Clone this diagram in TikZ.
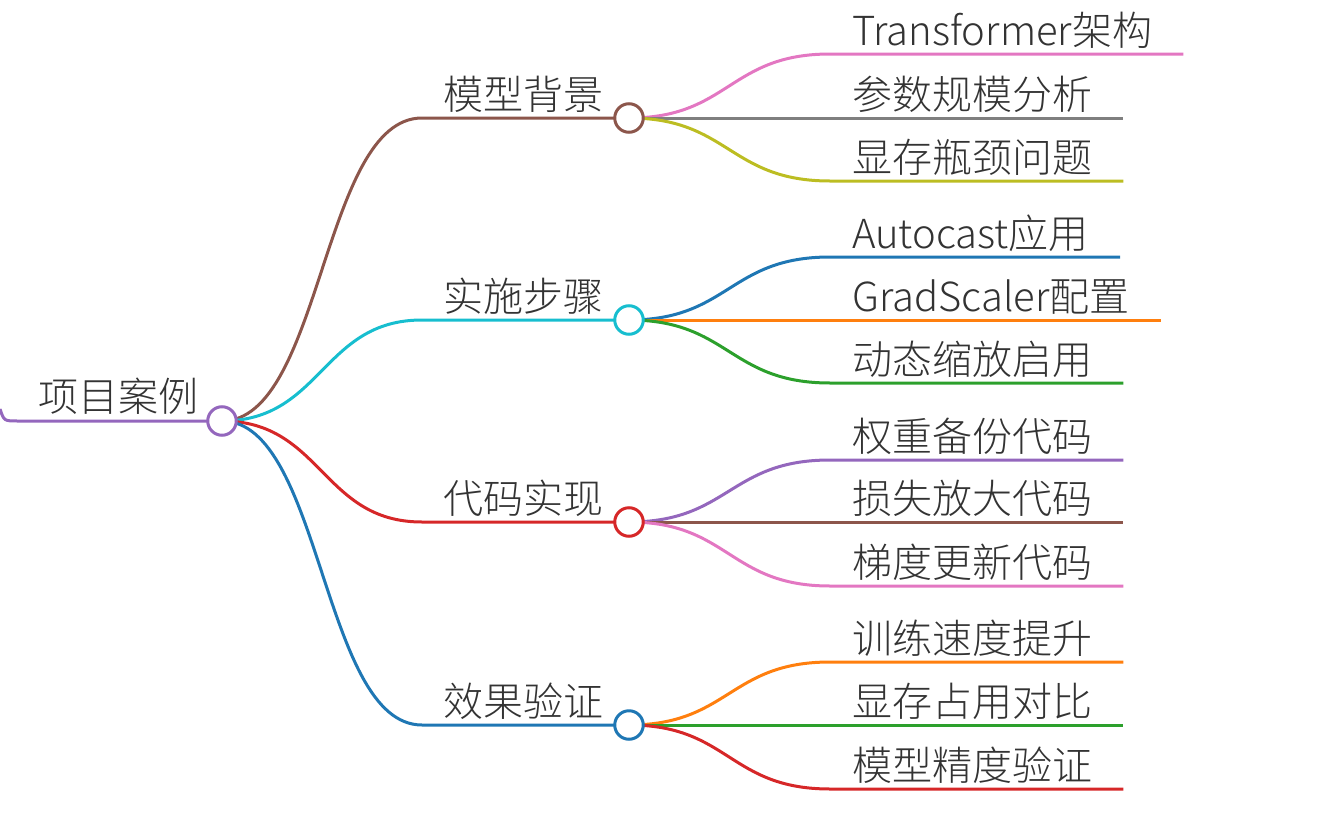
\documentclass[tikz,border=0pt]{standalone}
\usepackage{fontspec}
\setmainfont{Noto Sans CJK SC Light}
\usetikzlibrary{calc}
\definecolor{cpurple}{HTML}{9467BD}
\definecolor{cbrown}{HTML}{8C564B}
\definecolor{ccyan}{HTML}{17BECF}
\definecolor{cred}{HTML}{D62728}
\definecolor{cblue}{HTML}{1F77B4}
\definecolor{cpink}{HTML}{E377C2}
\definecolor{cgray}{HTML}{7F7F7F}
\definecolor{colive}{HTML}{BCBD22}
\definecolor{corange}{HTML}{FF7F0E}
\definecolor{cgreen}{HTML}{2CA02C}
\definecolor{textgray}{HTML}{333333}
\pgfdeclarelayer{bg}
\pgfsetlayers{bg,main}
\begin{document}
\begin{tikzpicture}[x=1pt,y=-1pt,
  edge/.style={line width=3pt},
  dot/.style={circle, draw, fill=white, line width=3pt, minimum size=28.5pt, inner sep=0pt},
  lbl/.style={inner sep=0pt, text=textgray, font=\fontsize{40}{44}\selectfont}]
\useasboundingbox (0,0) rectangle (1318,814);
% circles
\node[dot, draw=cpurple] (root) at (222,421) {};
\node[dot, draw=cbrown] (b1) at (629,118) {};
\node[dot, draw=ccyan] (b2) at (629,320) {};
\node[dot, draw=cred] (b3) at (629,522) {};
\node[dot, draw=cblue] (b4) at (629,725) {};
\coordinate (entry) at (0,409);
% labels
\node[lbl, anchor=base east] (troot) at (199,411) {项目案例};
\node[lbl, anchor=base west] (t1) at (443,109) {模型背景};
\node[lbl, anchor=base west] (t2) at (443,311) {实施步骤};
\node[lbl, anchor=base west] (t3) at (443,513) {代码实现};
\node[lbl, anchor=base west] (t4) at (443,716) {效果验证};
% leaves
\node[lbl, anchor=base west] (l11) at (852,45) {Transformer架构};
\node[lbl, anchor=base west] (l12) at (852,109) {参数规模分析};
\node[lbl, anchor=base west] (l13) at (852,172) {显存瓶颈问题};
\node[lbl, anchor=base west] (l21) at (852,248) {Autocast应用};
\node[lbl, anchor=base west] (l22) at (852,311) {GradScaler配置};
\node[lbl, anchor=base west] (l23) at (852,374) {动态缩放启用};
\node[lbl, anchor=base west] (l31) at (852,451) {权重备份代码};
\node[lbl, anchor=base west] (l32) at (852,513) {损失放大代码};
\node[lbl, anchor=base west] (l33) at (852,577) {梯度更新代码};
\node[lbl, anchor=base west] (l41) at (852,653) {训练速度提升};
\node[lbl, anchor=base west] (l42) at (852,716) {显存占用对比};
\node[lbl, anchor=base west] (l43) at (852,780) {模型精度验证};
\begin{pgfonlayer}{bg}
% root entry
\draw[edge, cpurple] (entry) .. controls (4,421) .. (18,421) -- (root.center);
% branches
\draw[edge, cbrown] (root.center) .. controls (322,421) and (322,118) .. (422,118) -- (b1.center);
\draw[edge, ccyan] (root.center) .. controls (322,421) and (322,320) .. (422,320) -- (b2.center);
\draw[edge, cred] (root.center) .. controls (322,421) and (322,522) .. (422,522) -- (b3.center);
\draw[edge, cblue] (root.center) .. controls (322,421) and (322,725) .. (422,725) -- (b4.center);
% leaves of b1
\draw[edge, cpink] (b1.center) .. controls (729,118) and (729,54) .. (830,54) -- ($(l11.base east)+(31,9)$);
\draw[edge, cgray] (b1.center) -- ($(l12.base east)+(31,9)$);
\draw[edge, colive] (b1.center) .. controls (729,118) and (729,181) .. (830,181) -- ($(l13.base east)+(31,9)$);
% leaves of b2
\draw[edge, cblue] (b2.center) .. controls (729,320) and (729,257) .. (830,257) -- ($(l21.base east)+(31,9)$);
\draw[edge, corange] (b2.center) -- ($(l22.base east)+(31,9)$);
\draw[edge, cgreen] (b2.center) .. controls (729,320) and (729,383) .. (830,383) -- ($(l23.base east)+(31,9)$);
% leaves of b3
\draw[edge, cpurple] (b3.center) .. controls (729,522) and (729,460) .. (830,460) -- ($(l31.base east)+(31,9)$);
\draw[edge, cbrown] (b3.center) -- ($(l32.base east)+(31,9)$);
\draw[edge, cpink] (b3.center) .. controls (729,522) and (729,586) .. (830,586) -- ($(l33.base east)+(31,9)$);
% leaves of b4
\draw[edge, corange] (b4.center) .. controls (729,725) and (729,662) .. (830,662) -- ($(l41.base east)+(31,9)$);
\draw[edge, cgreen] (b4.center) -- ($(l42.base east)+(31,9)$);
\draw[edge, cred] (b4.center) .. controls (729,725) and (729,789) .. (830,789) -- ($(l43.base east)+(31,9)$);
\end{pgfonlayer}
\end{tikzpicture}
\end{document}
